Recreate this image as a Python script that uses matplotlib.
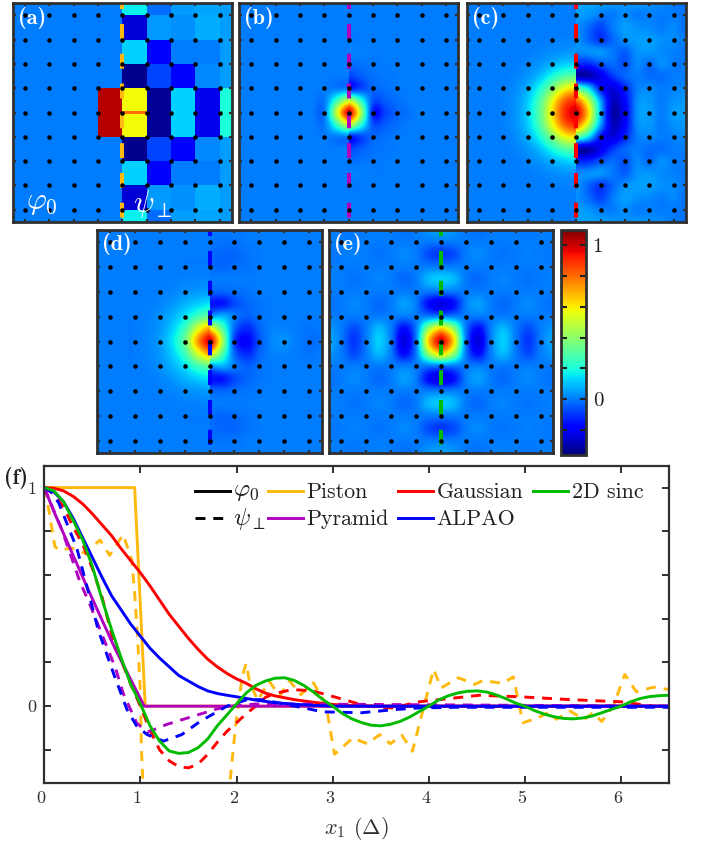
#!/usr/bin/env python3
import numpy as np
import matplotlib
matplotlib.use("Agg")
import matplotlib.pyplot as plt
from matplotlib.lines import Line2D
from matplotlib.patches import Rectangle
from matplotlib.transforms import ScaledTranslation

W, H = 708, 843
VMIN, VMAX = -0.36, 1.1

# panel (a): block values, rows from y=4.5 down to the middle strip
a_x_edges = [-4.5, -1, 0, 1, 2, 3, 4, 4.5]
a_y_edges = [-4.5, -4, -3, -2, -1, -0.07, 0.07, 1, 2, 3, 4, 4.5]
a_top_rows = [
    [0.0, 0.0, 0.17, -0.02, 0.05, 0.06, 0.05],
    [0.0, 0.0, -0.25, 0.04, 0.03, 0.07, 0.05],
    [0.0, 0.0, 0.12, -0.2, 0.0, 0.0, 0.05],
    [0.0, 0.0, -0.34, -0.08, -0.2, 0.02, 0.05],
    [0.0, 1.03, 0.58, -0.33, 0.12, -0.22, 0.2],
]
a_mid_row = [0.0, 1.03, 0.8, -0.33, 0.12, -0.22, 0.2]

# panels (b)-(e): rows y=0,0.5,...4.5, columns |x|=0,0.5,...4.5
b_left = [
    [1.0, 0.5, 0.0, 0, 0, 0, 0, 0, 0, 0],
    [0.5, 0.25, 0.0, 0, 0, 0, 0, 0, 0, 0],
    [0.0, 0.0, 0.0, 0, 0, 0, 0, 0, 0, 0],
    [0, 0, 0, 0, 0, 0, 0, 0, 0, 0],
    [0, 0, 0, 0, 0, 0, 0, 0, 0, 0],
    [0, 0, 0, 0, 0, 0, 0, 0, 0, 0],
    [0, 0, 0, 0, 0, 0, 0, 0, 0, 0],
    [0, 0, 0, 0, 0, 0, 0, 0, 0, 0],
    [0, 0, 0, 0, 0, 0, 0, 0, 0, 0],
    [0, 0, 0, 0, 0, 0, 0, 0, 0, 0],
]
b_right = [
    [1.0, 0.45, -0.14, -0.08, -0.03, -0.01, 0.01, 0, 0, 0],
    [0.5, 0.22, -0.06, -0.04, -0.015, 0, 0, 0, 0, 0],
    [-0.15, -0.08, -0.03, -0.015, 0, 0, 0, 0, 0, 0],
    [-0.08, -0.04, -0.015, -0.005, 0, 0, 0, 0, 0, 0],
    [-0.02, -0.01, -0.005, 0, 0, 0, 0, 0, 0, 0],
    [0.01, 0.01, 0, 0, 0, 0, 0, 0, 0, 0],
    [0, 0, 0, 0, 0, 0, 0, 0, 0, 0],
    [0, 0, 0, 0, 0, 0, 0, 0, 0, 0],
    [0, 0, 0, 0, 0, 0, 0, 0, 0, 0],
    [0, 0, 0, 0, 0, 0, 0, 0, 0, 0],
]
c_left = [
    [1.0, 0.9, 0.62, 0.32, 0.13, 0.04, 0.01, 0, 0, 0],
    [0.9, 0.81, 0.56, 0.29, 0.12, 0.036, 0.01, 0, 0, 0],
    [0.62, 0.56, 0.38, 0.2, 0.08, 0.025, 0.006, 0, 0, 0],
    [0.32, 0.29, 0.2, 0.1, 0.04, 0.013, 0.003, 0, 0, 0],
    [0.13, 0.12, 0.08, 0.04, 0.017, 0.005, 0, 0, 0, 0],
    [0.04, 0.036, 0.025, 0.013, 0.005, 0, 0, 0, 0, 0],
    [0.01, 0.01, 0.006, 0.003, 0, 0, 0, 0, 0, 0],
    [0, 0, 0, 0, 0, 0, 0, 0, 0, 0],
    [0, 0, 0, 0, 0, 0, 0, 0, 0, 0],
    [0, 0, 0, 0, 0, 0, 0, 0, 0, 0],
]
c_right = [
    [1.0, 0.65, 0.1, -0.3, -0.2, 0.03, 0.05, 0.0, 0.05, 0.05],
    [0.8, 0.5, 0.06, -0.27, -0.18, 0.02, 0.04, 0.0, 0.03, 0.04],
    [0.3, 0.15, -0.15, -0.24, -0.13, 0.0, 0.02, 0.0, 0.01, 0.02],
    [-0.3, -0.3, -0.22, -0.1, -0.03, 0.0, -0.02, -0.02, 0.0, 0.0],
    [-0.12, -0.12, -0.06, -0.02, -0.06, 0.02, -0.02, 0.03, 0.0, 0.0],
    [0.02, 0.03, 0.04, 0.0, -0.04, 0.03, 0.04, 0.02, 0.01, -0.01],
    [0.04, -0.03, -0.1, -0.03, 0.03, 0.05, 0.05, 0.03, 0.02, 0.0],
    [0.03, -0.02, -0.08, 0.0, 0.05, 0.03, 0.02, 0.0, 0.02, -0.02],
    [0.05, 0.04, 0.0, 0.0, 0.03, 0.0, 0.01, 0.0, 0.0, -0.01],
    [0.06, 0.06, 0.05, 0.04, 0.03, 0.04, 0.03, 0.02, 0.0, -0.02],
]
d_left = [
    [1.0, 0.72, 0.33, 0.15, 0.05, 0.015, 0, 0, 0, 0],
    [0.72, 0.52, 0.26, 0.12, 0.04, 0.012, 0, 0, 0, 0],
    [0.33, 0.26, 0.15, 0.08, 0.03, 0.01, 0, 0, 0, 0],
    [0.15, 0.12, 0.08, 0.04, 0.015, 0.005, 0, 0, 0, 0],
    [0.05, 0.04, 0.03, 0.015, 0.005, 0, 0, 0, 0, 0],
    [0.015, 0.012, 0.01, 0.005, 0, 0, 0, 0, 0, 0],
    [0, 0, 0, 0, 0, 0, 0, 0, 0, 0],
    [0, 0, 0, 0, 0, 0, 0, 0, 0, 0],
    [0, 0, 0, 0, 0, 0, 0, 0, 0, 0],
    [0, 0, 0, 0, 0, 0, 0, 0, 0, 0],
]
d_right = [
    [1.0, 0.45, -0.1, -0.18, -0.05, 0.02, 0.03, 0.0, -0.02, -0.01],
    [0.6, 0.3, -0.04, -0.12, -0.03, 0.01, 0.01, 0.0, -0.01, 0.0],
    [0.05, 0.08, 0.0, -0.04, -0.01, 0.0, 0.0, 0.0, 0.0, 0.0],
    [-0.15, -0.15, -0.07, -0.03, -0.01, 0.0, 0.0, 0.0, 0.0, 0.0],
    [-0.03, -0.03, -0.02, -0.01, 0.0, 0.0, 0.0, 0.0, 0.0, 0.0],
    [0.0, 0.0, 0.0, 0.0, 0.0, 0.0, 0.0, 0.0, 0.0, 0.0],
    [-0.02, -0.03, -0.02, -0.01, 0.0, 0.0, 0.0, 0.0, 0.0, 0.0],
    [-0.02, -0.03, -0.03, -0.01, 0.0, 0.0, 0.0, 0.0, 0.0, 0.0],
    [-0.01, -0.01, -0.01, 0.0, 0.0, 0.0, 0.0, 0.0, 0.0, 0.0],
    [0.0, 0.0, 0.0, 0.0, 0.0, 0.0, 0.0, 0.0, 0.0, 0.0],
]
e_side = [
    [1.0, 0.65, 0.0, -0.24, 0.0, 0.12, 0.0, -0.1, 0.0, 0.07],
    [0.65, 0.42, 0.0, -0.17, 0.0, 0.09, 0.0, -0.07, 0.0, 0.04],
    [0, 0, 0, 0, 0, 0, 0, 0, 0, 0],
    [-0.24, -0.17, 0.0, 0.05, 0.0, -0.025, 0.0, 0.02, 0.0, -0.015],
    [0, 0, 0, 0, 0, 0, 0, 0, 0, 0],
    [0.12, 0.09, 0.0, -0.025, 0.0, 0.014, 0.0, -0.01, 0.0, 0.008],
    [0, 0, 0, 0, 0, 0, 0, 0, 0, 0],
    [-0.1, -0.07, 0.0, 0.02, 0.0, -0.01, 0.0, 0.008, 0.0, -0.006],
    [0, 0, 0, 0, 0, 0, 0, 0, 0, 0],
    [0.07, 0.04, 0.0, -0.015, 0.0, 0.008, 0.0, -0.006, 0.0, 0.005],
]

# panel (f): curves
piston_x = [0, 0.94, 1.05, 6.5]
piston_y = [1, 1, 0, 0]
piston_dash_x = [0, 0.04, 0.08, 0.11, 0.16, 0.28, 0.42, 0.58, 0.68, 0.82, 0.91, 0.94, 0.97, 1.0,
                 1.01, 1.03, 1.92, 1.99, 2.06, 2.1, 2.135, 2.22, 2.34, 2.45, 2.55, 2.67, 2.8, 2.93,
                 3.02, 3.21, 3.36, 3.49, 3.6, 3.72, 3.83, 4.0, 4.05, 4.13, 4.31, 4.48, 4.56, 4.77,
                 4.88, 4.98, 5.14, 5.24, 5.33, 5.47, 5.62, 5.71, 5.8, 5.92, 6.04, 6.16, 6.34, 6.5]
piston_dash_y = [1, 0.915, 0.81, 0.73, 0.713, 0.724, 0.7, 0.76, 0.69, 0.785, 0.67, 0.52, 0.32, 0.06,
                 -0.18, -0.4, -0.4, -0.09, 0.137, 0.195, 0.114, 0.026, 0.114, 0.046, 0.117, 0.053, 0.107, 0.008,
                 -0.22, -0.145, -0.172, -0.13, -0.172, -0.133, -0.206, 0.084, 0.168, 0.084, 0.13, 0.1, 0.117, 0.105,
                 0.134, -0.076, -0.053, -0.03, -0.06, -0.023, -0.06, -0.03, -0.07, 0.0, 0.145, 0.066, 0.087, 0.076]
gauss_x = [0, 0.1, 0.2, 0.3, 0.4, 0.5, 0.6, 0.7, 0.8, 0.9, 1.0, 1.1, 1.2, 1.3, 1.4, 1.5, 1.6, 1.7, 1.8, 1.9,
           2.0, 2.1, 2.2, 2.3, 2.4, 2.6, 2.8, 3.0, 3.2, 3.5, 6.5]
gauss_y = [1, 0.997, 0.985, 0.96, 0.925, 0.88, 0.83, 0.78, 0.72, 0.665, 0.61, 0.55, 0.485, 0.42, 0.365, 0.31,
           0.26, 0.215, 0.18, 0.15, 0.125, 0.105, 0.08, 0.06, 0.047, 0.03, 0.018, 0.008, 0.003, 0, 0]
gauss_dash_x = [0, 0.1, 0.2, 0.3, 0.4, 0.5, 0.6, 0.7, 0.8, 0.9, 1.0, 1.1, 1.2, 1.3, 1.4, 1.5, 1.6, 1.7, 1.8, 1.9,
                2.0, 2.1, 2.2, 2.3, 2.38, 2.58, 2.79, 3.04, 3.35, 3.62, 3.9, 4.11, 4.53, 4.95, 5.47, 6.0, 6.34, 6.5]
gauss_dash_y = [1, 0.97, 0.91, 0.82, 0.74, 0.63, 0.5, 0.33, 0.21, 0.1, 0.0, -0.11, -0.2, -0.25, -0.277, -0.282,
                -0.265, -0.22, -0.165, -0.115, -0.076, -0.035, 0, 0.04, 0.056, 0.076, 0.07, 0.04, 0, -0.008,
                0.02, 0.03, 0.05, 0.043, 0.03, 0.02, 0, -0.005]
pyramid_x = [0, 0.1, 0.47, 0.74, 1.04, 6.5]
pyramid_y = [1, 0.89, 0.52, 0.26, 0, 0]
pyramid_dash_x = [0, 0.18, 0.37, 0.47, 0.74, 0.82, 0.96, 1.07, 1.27, 1.55, 1.8, 1.95, 2.2, 2.6, 6.5]
pyramid_dash_y = [1, 0.81, 0.57, 0.47, 0.175, 0.06, -0.076, -0.12, -0.084, -0.046, -0.012, 0.0, 0.01, 0.01, 0]
alpao_x = [0, 0.1, 0.2, 0.3, 0.4, 0.5, 0.6, 0.7, 0.8, 0.9, 1.0, 1.1, 1.2, 1.3, 1.4, 1.5, 1.6, 1.7, 1.8, 1.9,
           2.0, 2.2, 2.4, 2.6, 2.8, 3.0, 6.5]
alpao_y = [1, 0.98, 0.935, 0.86, 0.77, 0.68, 0.59, 0.505, 0.44, 0.375, 0.32, 0.265, 0.22, 0.18, 0.14, 0.115,
           0.09, 0.07, 0.058, 0.05, 0.043, 0.028, 0.016, 0.009, 0.004, 0, 0]
alpao_dash_x = [0, 0.07, 0.15, 0.34, 0.46, 0.56, 0.72, 0.86, 0.96, 1.07, 1.24, 1.43, 1.62, 1.9, 2.11, 2.25,
                2.38, 2.7, 2.9, 3.3, 3.66, 3.9, 4.3, 6.5]
alpao_dash_y = [1, 0.98, 0.93, 0.72, 0.52, 0.35, 0.15, -0.015, -0.09, -0.13, -0.16, -0.13, -0.07, 0, 0.03, 0.03,
                0.02, -0.008, -0.026, -0.03, -0.015, -0.008, -0.005, -0.005]
sinc_x = [0, 0.1, 0.2, 0.3, 0.4, 0.5, 0.6, 0.7, 0.8, 0.9, 1.0, 1.1, 1.2, 1.3, 1.4, 1.5, 1.6, 1.7, 1.8, 1.9,
          2.0, 2.1, 2.2, 2.3, 2.4, 2.5, 2.6, 2.7, 2.8, 2.9, 3.0, 3.1, 3.2, 3.3, 3.4, 3.5, 3.6, 3.7, 3.8, 3.9,
          4.0, 4.1, 4.2, 4.3, 4.4, 4.5, 4.6, 4.7, 4.8, 4.9, 5.0, 5.1, 5.2, 5.3, 5.4, 5.5, 5.6, 5.7, 5.8, 5.9,
          6.0, 6.1, 6.2, 6.3, 6.4, 6.5]
sinc_y = [1, 0.985, 0.935, 0.85, 0.76, 0.64, 0.49, 0.35, 0.22, 0.1, 0.01, -0.09, -0.16, -0.205, -0.216, -0.212,
          -0.19, -0.15, -0.09, -0.04, 0.01, 0.06, 0.095, 0.115, 0.128, 0.13, 0.118, 0.095, 0.065, 0.03, 0,
          -0.033, -0.058, -0.075, -0.087, -0.09, -0.083, -0.07, -0.05, -0.025, 0, 0.028, 0.047, 0.06, 0.068,
          0.07, 0.065, 0.052, 0.035, 0.015, 0, -0.02, -0.036, -0.048, -0.056, -0.058, -0.054, -0.045, -0.03,
          -0.015, 0, 0.02, 0.035, 0.044, 0.048, 0.05]

legend_names = ["Piston", "Pyramid", "Gaussian", "ALPAO", "2D sinc"]
ORANGE, RED, PURPLE, BLUE, GREEN = "#ffb90f", "#ff0000", "#b000c0", "#0000ff", "#00bb00"
LINE_W = 2.1

plt.rcParams["font.family"] = ["cmr10", "DejaVu Serif"]
plt.rcParams["mathtext.fontset"] = "cm"
plt.rcParams["axes.formatter.use_mathtext"] = True
plt.rcParams["axes.unicode_minus"] = False

fig = plt.figure(figsize=(W / 100, H / 100), dpi=100)


def px_axes(left, top, right, bottom):
    return fig.add_axes([left / W, 1 - bottom / H, (right - left) / W, (bottom - top) / H])


def full_grid(half):
    half = np.array(half, dtype=float)
    return np.vstack([half[:0:-1], half])


def half_image(ax, half, side):
    grid = full_grid(half)
    if side == "left":
        grid = grid[:, ::-1]
        extent = [-4.75, 0.25, -4.75, 4.75]
        clip = Rectangle((-4.5, -4.5), 4.5, 9, transform=ax.transData)
    else:
        extent = [-0.25, 4.75, -4.75, 4.75]
        clip = Rectangle((0, -4.5), 4.5, 9, transform=ax.transData)
    im = ax.imshow(grid, origin="lower", extent=extent, cmap="jet", vmin=VMIN, vmax=VMAX,
                   interpolation="catrom", aspect="auto")
    im.set_clip_path(clip)
    return im


def finish_map(ax, color, label):
    ax.plot([0, 0], [4.5, -4.5], color=color, lw=2.9, linestyle=(2.2, (3.7, 3.7)),
            dash_capstyle="butt", zorder=3)
    grid_pos = np.arange(-4, 5)
    xx, yy = np.meshgrid(grid_pos, grid_pos)
    ax.plot(xx.ravel(), yy.ravel(), "o", color="black", ms=3.3, mew=0, zorder=4)
    ax.set_xlim(-4.5, 4.5)
    ax.set_ylim(-4.5, 4.5)
    ax.set_xticks(grid_pos)
    ax.set_yticks(grid_pos)
    ax.tick_params(direction="in", length=2.5, width=1.6, color="#303030",
                   top=True, right=True, labelleft=False, labelbottom=False)
    for spine in ax.spines.values():
        spine.set_linewidth(2.0)
        spine.set_color("#303030")
        spine.set_zorder(6)
    ax.text(0.022, 0.985, label, transform=ax.transAxes, color="white", family="cmb10",
            fontsize=16, va="top", ha="left", zorder=7)


ax_a = px_axes(12.7, 3.3, 231.7, 221.7)
a_grid = np.vstack([a_top_rows, [a_mid_row], a_top_rows[::-1]])
ax_a.pcolormesh(a_x_edges, a_y_edges, a_grid, cmap="jet", vmin=VMIN, vmax=VMAX)
finish_map(ax_a, ORANGE, "(a)")
ax_a.text(-3.95, -3.75, r"$\varphi_0$", color="white", fontsize=22, va="center", zorder=7)
ax_a.text(0.45, -3.75, r"$\psi_\perp$", color="white", fontsize=22, va="center", zorder=7)

ax_b = px_axes(239.3, 3.3, 458.3, 221.7)
half_image(ax_b, b_left, "left")
half_image(ax_b, b_right, "right")
finish_map(ax_b, PURPLE, "(b)")

ax_c = px_axes(466.7, 3.3, 685.7, 221.7)
half_image(ax_c, c_left, "left")
half_image(ax_c, c_right, "right")
finish_map(ax_c, RED, "(c)")

ax_d = px_axes(97.3, 230, 321.7, 453.3)
half_image(ax_d, d_left, "left")
half_image(ax_d, d_right, "right")
finish_map(ax_d, BLUE, "(d)")

ax_e = px_axes(329, 230, 553, 453.3)
half_image(ax_e, e_side, "left")
mappable = half_image(ax_e, e_side, "right")
finish_map(ax_e, GREEN, "(e)")

cax = px_axes(561, 230, 585.7, 454.5)
cbar = fig.colorbar(mappable, cax=cax)
cbar.set_ticks([-0.2, 0, 0.2, 0.4, 0.6, 0.8, 1.0])
cbar.set_ticklabels(["", "0", "", "", "", "", "1"])
cax.tick_params(direction="in", left=True, right=True, length=4, width=1.5, color="#202020",
                labelsize=15, labelcolor="#202020", pad=5)
cbar.outline.set_linewidth(2.0)
cbar.outline.set_edgecolor("#303030")

# panel (f)
ax_f = px_axes(44.3, 465.7, 669, 782.7)
solid_kw = dict(lw=LINE_W)
dash_kw = dict(lw=LINE_W, linestyle=(0, (3.4, 2.7)))
ax_f.plot(piston_x, piston_y, color=ORANGE, **solid_kw)
ax_f.plot(piston_dash_x, piston_dash_y, color=ORANGE, **dash_kw)
ax_f.plot(gauss_x, gauss_y, color=RED, **solid_kw)
ax_f.plot(gauss_dash_x, gauss_dash_y, color=RED, **dash_kw)
ax_f.plot(pyramid_x, pyramid_y, color=PURPLE, **solid_kw)
ax_f.plot(pyramid_dash_x, pyramid_dash_y, color=PURPLE, **dash_kw)
ax_f.plot(alpao_x, alpao_y, color=BLUE, **solid_kw)
ax_f.plot(alpao_dash_x, alpao_dash_y, color=BLUE, **dash_kw)
ax_f.plot(sinc_x, sinc_y, color=GREEN, **solid_kw)
ax_f.set_xlim(0, 6.5)
ax_f.set_ylim(-0.35, 1.1)
ax_f.set_xticks([0, 1, 2, 3, 4, 5, 6])
ax_f.set_xticklabels(["0", "1", "2", "3", "4", "5", "6"])
ax_f.set_yticks([-0.2, 0, 0.2, 0.4, 0.6, 0.8, 1.0])
ax_f.set_yticklabels(["", "0", "", "", "", "", "1"])
ax_f.tick_params(direction="in", length=5, width=1.4, color="#303030", top=True, right=True,
                 labelsize=13, labelcolor="#303030", pad=6)
shift = ScaledTranslation(-3 / 100, 0, fig.dpi_scale_trans)
for tick_label in ax_f.get_xticklabels():
    tick_label.set_transform(tick_label.get_transform() + shift)
for spine in ax_f.spines.values():
    spine.set_linewidth(1.6)
    spine.set_color("#303030")
ax_f.set_xlabel(r"$x_1$ ($\Delta$)", fontsize=16, color="#303030", labelpad=6)
fig.text(4 / W, 1 - 478 / H, "(f)", family="cmb10", fontsize=16, color="#202020", va="center")


# legend handles and labels placed in figure pixels
def legend_entry(x0, x1, y, color, label, style="-", text_x=None, fontsize=15.8):
    fig.add_artist(Line2D([x0 / W, x1 / W], [1 - y / H, 1 - y / H], color=color, lw=LINE_W,
                          linestyle=style, dash_capstyle="butt", transform=fig.transFigure))
    fig.text(text_x / W, 1 - (y + 1) / H, label, fontsize=fontsize, color="#202020", va="center")


dash_style = (0, (3.4, 2.7))
legend_entry(195, 230, 491, "black", r"$\varphi_0$", text_x=233, fontsize=18)
legend_entry(195, 224, 518, "black", r"$\psi_\perp$", style=dash_style, text_x=233, fontsize=18)
legend_entry(268, 303, 491, ORANGE, legend_names[0], text_x=306.5)
legend_entry(268, 303, 518, PURPLE, legend_names[1], text_x=306.5)
legend_entry(398, 433, 491, RED, legend_names[2], text_x=436.5)
legend_entry(398, 433, 518, BLUE, legend_names[3], text_x=436.5)
legend_entry(532.5, 567.5, 491, GREEN, legend_names[4], text_x=571.5)

fig.savefig("out.png", dpi=100)
